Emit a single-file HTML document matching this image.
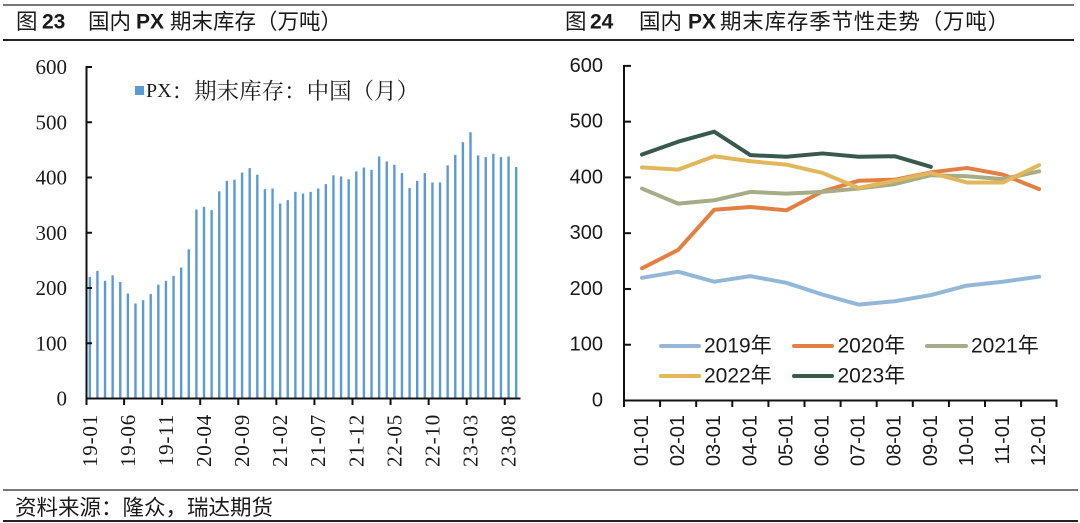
<!DOCTYPE html>
<html>
<head>
<meta charset="utf-8">
<style>
html,body{margin:0;padding:0;background:#fff;}
svg{display:block;}
.t{font-family:"Liberation Sans","Noto Sans CJK SC",sans-serif;font-size:21.5px;fill:#1a1a1a;}
.tb{font-family:"Liberation Sans","Noto Sans CJK SC",sans-serif;font-size:21px;font-weight:bold;fill:#1a1a1a;}
.ser{font-family:"Liberation Serif","Noto Serif CJK SC",serif;fill:#1a1a1a;}
.sans{font-family:"Liberation Sans","Noto Sans CJK SC",sans-serif;fill:#1a1a1a;}
</style>
</head>
<body>
<svg width="1080" height="523" viewBox="0 0 1080 523" xmlns="http://www.w3.org/2000/svg">
<line x1="3" y1="5" x2="1074" y2="5" stroke="#777" stroke-width="2"/>
<line x1="3" y1="40" x2="1074" y2="40" stroke="#222" stroke-width="2"/>
<text class="t" x="16" y="22" dominant-baseline="central">图</text>
<text class="tb" x="42" y="22" dominant-baseline="central">23</text>
<text class="t" x="88" y="22" dominant-baseline="central">国内</text>
<text class="tb" x="136" y="22" dominant-baseline="central">PX</text>
<text class="t" x="170" y="22" dominant-baseline="central">期末库存（万吨）</text>
<text class="t" x="565" y="22" dominant-baseline="central">图</text>
<text class="tb" x="590" y="22" dominant-baseline="central">24</text>
<text class="t" x="639" y="22" dominant-baseline="central">国内</text>
<text class="tb" x="688" y="22" dominant-baseline="central">PX</text>
<text class="t" x="720" y="22" dominant-baseline="central" letter-spacing="0.8">期末库存季节性走势（万吨）</text>
<g fill="#5B9BD5">
<g transform="translate(0,398.5) scale(1,-0.5525)">
<rect x="88.6" y="0" width="2.4" height="220"/>
<rect x="96.21" y="0" width="2.4" height="231"/>
<rect x="103.83" y="0" width="2.4" height="213"/>
<rect x="111.44" y="0" width="2.4" height="223"/>
<rect x="119.06" y="0" width="2.4" height="211"/>
<rect x="126.67" y="0" width="2.4" height="190"/>
<rect x="134.28" y="0" width="2.4" height="172"/>
<rect x="141.90" y="0" width="2.4" height="178"/>
<rect x="149.51" y="0" width="2.4" height="189"/>
<rect x="157.13" y="0" width="2.4" height="206"/>
<rect x="164.74" y="0" width="2.4" height="213"/>
<rect x="172.35" y="0" width="2.4" height="222"/>
<rect x="179.97" y="0" width="2.4" height="237"/>
<rect x="187.58" y="0" width="2.4" height="270"/>
<rect x="195.20" y="0" width="2.4" height="342"/>
<rect x="202.81" y="0" width="2.4" height="347"/>
<rect x="210.42" y="0" width="2.4" height="341"/>
<rect x="218.04" y="0" width="2.4" height="375"/>
<rect x="225.65" y="0" width="2.4" height="394"/>
<rect x="233.27" y="0" width="2.4" height="396"/>
<rect x="240.88" y="0" width="2.4" height="409"/>
<rect x="248.49" y="0" width="2.4" height="417"/>
<rect x="256.11" y="0" width="2.4" height="405"/>
<rect x="263.72" y="0" width="2.4" height="379"/>
<rect x="271.34" y="0" width="2.4" height="380"/>
<rect x="278.95" y="0" width="2.4" height="353"/>
<rect x="286.56" y="0" width="2.4" height="359"/>
<rect x="294.18" y="0" width="2.4" height="374"/>
<rect x="301.79" y="0" width="2.4" height="371"/>
<rect x="309.41" y="0" width="2.4" height="374"/>
<rect x="317.02" y="0" width="2.4" height="380"/>
<rect x="324.63" y="0" width="2.4" height="388"/>
<rect x="332.25" y="0" width="2.4" height="404"/>
<rect x="339.86" y="0" width="2.4" height="402"/>
<rect x="347.48" y="0" width="2.4" height="397"/>
<rect x="355.09" y="0" width="2.4" height="411"/>
<rect x="362.70" y="0" width="2.4" height="418"/>
<rect x="370.32" y="0" width="2.4" height="414"/>
<rect x="377.93" y="0" width="2.4" height="438"/>
<rect x="385.55" y="0" width="2.4" height="429"/>
<rect x="393.16" y="0" width="2.4" height="423"/>
<rect x="400.77" y="0" width="2.4" height="408"/>
<rect x="408.39" y="0" width="2.4" height="381"/>
<rect x="416.00" y="0" width="2.4" height="394"/>
<rect x="423.62" y="0" width="2.4" height="408"/>
<rect x="431.23" y="0" width="2.4" height="391"/>
<rect x="438.84" y="0" width="2.4" height="391"/>
<rect x="446.46" y="0" width="2.4" height="422"/>
<rect x="454.07" y="0" width="2.4" height="441"/>
<rect x="461.69" y="0" width="2.4" height="464"/>
<rect x="469.30" y="0" width="2.4" height="482"/>
<rect x="476.91" y="0" width="2.4" height="440"/>
<rect x="484.53" y="0" width="2.4" height="437"/>
<rect x="492.14" y="0" width="2.4" height="443"/>
<rect x="499.76" y="0" width="2.4" height="437"/>
<rect x="507.37" y="0" width="2.4" height="438"/>
<rect x="514.98" y="0" width="2.4" height="419"/>
</g>
</g>
<g stroke="#111" stroke-width="2" fill="none">
<line x1="86.5" y1="66" x2="86.5" y2="399.5"/>
<line x1="85.5" y1="398.5" x2="520.5" y2="398.5"/>
<line x1="86.5" y1="67" x2="92" y2="67"/>
<line x1="86.5" y1="122.25" x2="92" y2="122.25"/>
<line x1="86.5" y1="177.5" x2="92" y2="177.5"/>
<line x1="86.5" y1="232.75" x2="92" y2="232.75"/>
<line x1="86.5" y1="288" x2="92" y2="288"/>
<line x1="86.5" y1="343.25" x2="92" y2="343.25"/>
<line x1="86.5" y1="398.5" x2="86.5" y2="405"/>
<line x1="124.07" y1="398.5" x2="124.07" y2="405"/>
<line x1="162.14" y1="398.5" x2="162.14" y2="405"/>
<line x1="200.21" y1="398.5" x2="200.21" y2="405"/>
<line x1="238.28" y1="398.5" x2="238.28" y2="405"/>
<line x1="276.35" y1="398.5" x2="276.35" y2="405"/>
<line x1="314.42" y1="398.5" x2="314.42" y2="405"/>
<line x1="352.49" y1="398.5" x2="352.49" y2="405"/>
<line x1="390.56" y1="398.5" x2="390.56" y2="405"/>
<line x1="428.63" y1="398.5" x2="428.63" y2="405"/>
<line x1="466.7" y1="398.5" x2="466.7" y2="405"/>
<line x1="504.77" y1="398.5" x2="504.77" y2="405"/>
</g>
<g class="ser" font-size="21" text-anchor="end" dominant-baseline="central">
<text x="67" y="67">600</text>
<text x="67" y="122.25">500</text>
<text x="67" y="177.5">400</text>
<text x="67" y="232.75">300</text>
<text x="67" y="288">200</text>
<text x="67" y="343.25">100</text>
<text x="67" y="398.5">0</text>
</g>
<g class="ser" font-size="21" letter-spacing="0.8" text-anchor="end" dominant-baseline="central">
<text transform="translate(89.8,414) rotate(-90)">19-01</text>
<text transform="translate(127.9,414) rotate(-90)">19-06</text>
<text transform="translate(165.9,414) rotate(-90)">19-11</text>
<text transform="translate(204.0,414) rotate(-90)">20-04</text>
<text transform="translate(242.1,414) rotate(-90)">20-09</text>
<text transform="translate(280.2,414) rotate(-90)">21-02</text>
<text transform="translate(318.2,414) rotate(-90)">21-07</text>
<text transform="translate(356.3,414) rotate(-90)">21-12</text>
<text transform="translate(394.4,414) rotate(-90)">22-05</text>
<text transform="translate(432.4,414) rotate(-90)">22-10</text>
<text transform="translate(470.5,414) rotate(-90)">23-03</text>
<text transform="translate(508.6,414) rotate(-90)">23-08</text>
</g>
<rect x="135" y="86" width="9" height="9" fill="#5B9BD5"/>
<text class="ser" x="146" y="91" dominant-baseline="central"><tspan font-size="20">PX</tspan><tspan font-size="22.5">：期末库存：中国（月）</tspan></text>
<g stroke="#111" stroke-width="2" fill="none">
<line x1="624" y1="65" x2="624" y2="401.5"/>
<line x1="623" y1="400.5" x2="1057.5" y2="400.5"/>
<line x1="624" y1="65.88" x2="631" y2="65.88"/>
<line x1="624" y1="121.65" x2="631" y2="121.65"/>
<line x1="624" y1="177.42" x2="631" y2="177.42"/>
<line x1="624" y1="233.19" x2="631" y2="233.19"/>
<line x1="624" y1="288.96" x2="631" y2="288.96"/>
<line x1="624" y1="344.73" x2="631" y2="344.73"/>
<line x1="624" y1="400.5" x2="624" y2="407"/>
<line x1="660.1" y1="400.5" x2="660.1" y2="407"/>
<line x1="696.2" y1="400.5" x2="696.2" y2="407"/>
<line x1="732.3" y1="400.5" x2="732.3" y2="407"/>
<line x1="768.4" y1="400.5" x2="768.4" y2="407"/>
<line x1="804.5" y1="400.5" x2="804.5" y2="407"/>
<line x1="840.6" y1="400.5" x2="840.6" y2="407"/>
<line x1="876.7" y1="400.5" x2="876.7" y2="407"/>
<line x1="912.8" y1="400.5" x2="912.8" y2="407"/>
<line x1="948.9" y1="400.5" x2="948.9" y2="407"/>
<line x1="985" y1="400.5" x2="985" y2="407"/>
<line x1="1021.1" y1="400.5" x2="1021.1" y2="407"/>
<line x1="1056.5" y1="400.5" x2="1056.5" y2="407"/>
</g>
<g class="sans" font-size="20" text-anchor="end" dominant-baseline="central">
<text x="603" y="65.88">600</text>
<text x="603" y="121.65">500</text>
<text x="603" y="177.42">400</text>
<text x="603" y="233.19">300</text>
<text x="603" y="288.96">200</text>
<text x="603" y="344.73">100</text>
<text x="603" y="400.5">0</text>
</g>
<g class="sans" font-size="20" text-anchor="end" dominant-baseline="central">
<text transform="translate(642,415) rotate(-90)">01-01</text>
<text transform="translate(678.1,415) rotate(-90)">02-01</text>
<text transform="translate(714.2,415) rotate(-90)">03-01</text>
<text transform="translate(750.3,415) rotate(-90)">04-01</text>
<text transform="translate(786.4,415) rotate(-90)">05-01</text>
<text transform="translate(822.5,415) rotate(-90)">06-01</text>
<text transform="translate(858.6,415) rotate(-90)">07-01</text>
<text transform="translate(894.7,415) rotate(-90)">08-01</text>
<text transform="translate(930.8,415) rotate(-90)">09-01</text>
<text transform="translate(966.9,415) rotate(-90)">10-01</text>
<text transform="translate(1003,415) rotate(-90)">11-01</text>
<text transform="translate(1039.1,415) rotate(-90)">12-01</text>
</g>
<g fill="none" stroke-width="4" stroke-linejoin="round" stroke-linecap="round">
<polyline stroke="#93B8D7" points="642,277.81 678.1,271.67 714.2,281.71 750.3,276.13 786.4,282.83 822.5,294.54 858.6,304.58 894.7,301.23 930.8,295.09 966.9,285.61 1003,281.71 1039.1,276.69"/>
<polyline stroke="#E27F43" points="642,268.33 678.1,249.92 714.2,209.77 750.3,206.98 786.4,210.32 822.5,191.36 858.6,180.77 894.7,179.65 930.8,172.40 966.9,167.94 1003,174.63 1039.1,189.13"/>
<polyline stroke="#A5AC86" points="642,188.57 678.1,203.63 714.2,200.29 750.3,191.92 786.4,193.59 822.5,191.92 858.6,188.57 894.7,184.11 930.8,175.19 966.9,176.30 1003,179.09 1039.1,171.29"/>
<polyline stroke="#E2B65A" points="642,167.38 678.1,169.61 714.2,156.23 750.3,161.25 786.4,164.59 822.5,172.96 858.6,188.02 894.7,180.77 930.8,172.96 966.9,182.44 1003,182.44 1039.1,165.15"/>
<polyline stroke="#375A4C" points="642,154.55 678.1,141.73 714.2,131.69 750.3,155.11 786.4,156.79 822.5,153.44 858.6,156.79 894.7,156.23 930.8,166.82"/>
</g>
<g stroke-width="4" stroke-linecap="round">
<line x1="661" y1="346" x2="699" y2="346" stroke="#93B8D7"/>
<line x1="794" y1="346" x2="832" y2="346" stroke="#E27F43"/>
<line x1="927" y1="346" x2="966" y2="346" stroke="#A5AC86"/>
<line x1="661" y1="376" x2="699" y2="376" stroke="#E2B65A"/>
<line x1="794" y1="376" x2="832" y2="376" stroke="#375A4C"/>
</g>
<g class="sans" font-size="21" dominant-baseline="central">
<text x="704" y="346">2019年</text>
<text x="837.5" y="346">2020年</text>
<text x="971" y="346">2021年</text>
<text x="704" y="376">2022年</text>
<text x="837.5" y="376">2023年</text>
</g>
<line x1="3" y1="490" x2="1078" y2="490" stroke="#777" stroke-width="2"/>
<text class="t" x="15" y="508" dominant-baseline="central">资料来源：隆众，瑞达期货</text>
<line x1="3" y1="521" x2="1078" y2="521" stroke="#222" stroke-width="2"/>
</svg>
</body>
</html>
